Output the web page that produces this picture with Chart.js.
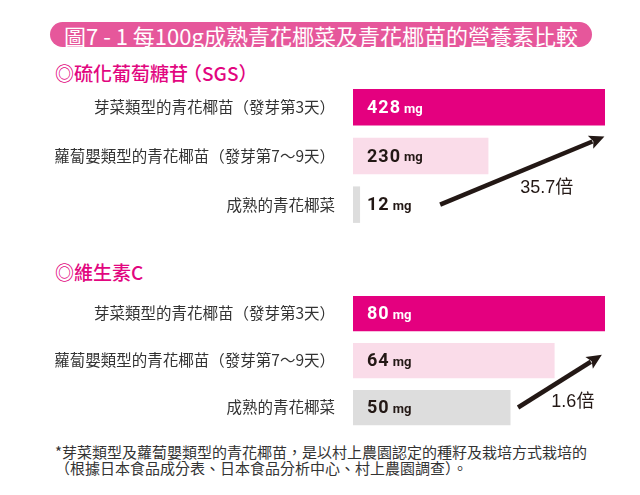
<!DOCTYPE html>
<html><head><meta charset="utf-8">
<script src="https://cdn.jsdelivr.net/npm/chart.js@4"></script>
<style>
html,body{margin:0;padding:0;background:#fff;width:640px;height:495px;overflow:hidden;font-family:"Noto Sans CJK TC",sans-serif;}
#title{position:absolute;left:50px;top:22px;width:542px;height:25px;border-radius:13px;background:#E6579B;color:#fff;font-size:22px;line-height:26px;padding-left:14px;box-sizing:border-box;white-space:nowrap;overflow:hidden;}
.sub{position:absolute;left:55px;color:#E2067F;font-size:19px;line-height:22px;white-space:nowrap;font-weight:500;}
.wrap{position:absolute;left:0;width:640px;}
#note{position:absolute;left:55px;top:444px;font-size:15px;line-height:16px;color:#333;white-space:nowrap;}
</style></head>
<body>
<div id="title">圖7 - 1 每100g成熟青花椰菜及青花椰苗的營養素比較</div>
<div class="sub" style="top:62px">◎硫化葡萄糖<span style="letter-spacing:-5px">苷</span>（SGS）</div>
<div class="wrap" style="top:83px;height:146px"><canvas id="c1" width="640" height="146"></canvas></div>
<div class="sub" style="top:261px">◎維生素C</div>
<div class="wrap" style="top:290px;height:141px"><canvas id="c2" width="640" height="141"></canvas></div>
<div id="note">*芽菜類型及蘿蔔嬰類型的青花椰苗，是以村上農園認定的種籽及栽培方式栽培的<br>（根據日本食品成分表、日本食品分析中心、村上農園調查）。</div>
<script>
const categories = ['芽菜類型的青花椰苗（發芽第3天）', '蘿蔔嬰類型的青花椰苗（發芽第7～9天）', '成熟的青花椰菜'];
const sgsValues = [428, 230, 12];
const vitCValues = [80, 64, 50];
const unit = 'mg';
const barColors = ['#E4007F', '#FADCE9', '#DDDDDD'];
const valueTextColors = ['#FFFFFF', '#231815', '#231815'];
// arrow annotations in data units: [x value, category index]
const sgsArrow = {from: [148, 2], to: [427, 0.6], label: [329, 1.66]};
const vitCArrow = {from: [52.4, 2], to: [79, 0.88], label: [69.8, 1.89]};

const overlay = {
  id: 'overlay',
  afterDatasetsDraw(chart, args, opts) {
    const ctx = chart.ctx;
    const meta = chart.getDatasetMeta(0);
    const data = chart.data.datasets[0].data;
    const xs = chart.scales.x, ys = chart.scales.y;
    ctx.save();
    ctx.textBaseline = 'middle';
    ctx.textAlign = 'left';
    meta.data.forEach((bar, i) => {
      const v = String(data[i]);
      ctx.fillStyle = valueTextColors[i];
      ctx.font = 'bold 18px Roboto, "Noto Sans CJK TC"';
      ctx.letterSpacing = '1px';
      const x0 = bar.base + 14;
      ctx.fillText(v, x0, bar.y + 1);
      const w = ctx.measureText(v).width;
      ctx.letterSpacing = '0px';
      ctx.font = 'bold 13px Roboto';
      ctx.fillText(unit, x0 + w + 3, bar.y + 2);
    });
    const a = opts.arrow;
    const x1 = xs.getPixelForValue(a.from[0]), y1 = ys.getPixelForValue(a.from[1]);
    const x2 = xs.getPixelForValue(a.to[0]), y2 = ys.getPixelForValue(a.to[1]);
    const ang = Math.atan2(y2 - y1, x2 - x1);
    const head = 15, hw = 7;
    const bx = x2 - head * Math.cos(ang), by = y2 - head * Math.sin(ang);
    ctx.strokeStyle = '#231815';
    ctx.fillStyle = '#231815';
    ctx.lineWidth = 4.5;
    ctx.beginPath();
    ctx.moveTo(x1, y1);
    ctx.lineTo(bx + 2 * Math.cos(ang), by + 2 * Math.sin(ang));
    ctx.stroke();
    ctx.beginPath();
    ctx.moveTo(x2, y2);
    ctx.lineTo(bx - hw * Math.sin(ang), by + hw * Math.cos(ang));
    ctx.lineTo(bx + 3 * Math.cos(ang), by + 3 * Math.sin(ang));
    ctx.lineTo(bx + hw * Math.sin(ang), by - hw * Math.cos(ang));
    ctx.closePath();
    ctx.fill();
    const ratio = (data[0] / data[data.length - 1]).toFixed(1) + '倍';
    ctx.font = '18px "Liberation Sans", "Noto Sans CJK TC"';
    ctx.textAlign = 'center';
    ctx.fillStyle = '#231815';
    ctx.fillText(ratio, xs.getPixelForValue(a.label[0]), ys.getPixelForValue(a.label[1]));
    ctx.restore();
  }
};

function makeChart(id, values, arrow) {
  return new Chart(document.getElementById(id), {
    type: 'bar',
    data: {
      labels: categories,
      datasets: [{data: values, backgroundColor: barColors, borderWidth: 0, barPercentage: 1, categoryPercentage: 0.75}]
    },
    options: {
      indexAxis: 'y',
      responsive: false,
      animation: false,
      devicePixelRatio: 1,
      layout: {padding: {left: 0, right: 35, top: 0, bottom: 0}},
      scales: {
        x: {display: false, min: 0, max: Math.max(...values)},
        y: {
          grid: {display: false},
          border: {display: false},
          ticks: {color: '#333333', padding: 10, font: {family: '"Noto Sans CJK TC"', size: 15.5}},
          afterFit(s) { s.width = 353; s.paddingTop = 0; s.paddingBottom = 0; }
        }
      },
      plugins: {legend: {display: false}, tooltip: {enabled: false}, overlay: {arrow: arrow}}
    },
    plugins: [overlay]
  });
}
makeChart('c1', sgsValues, sgsArrow);
makeChart('c2', vitCValues, vitCArrow);
</script>
</body></html>
